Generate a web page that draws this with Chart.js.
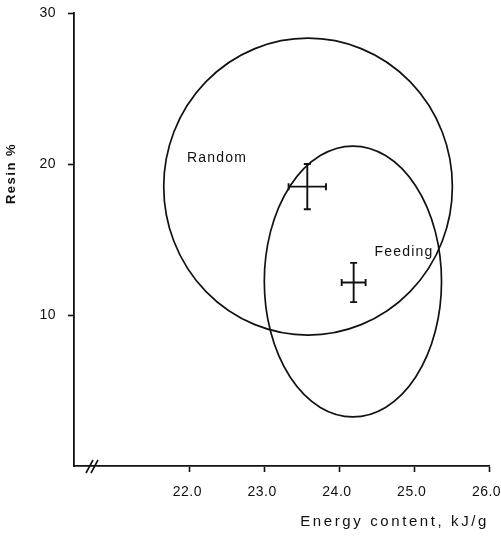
<!DOCTYPE html>
<html><head><meta charset="utf-8">
<script src="https://cdn.jsdelivr.net/npm/chart.js@4"></script>
<style>html,body{margin:0;padding:0;background:#fff}#c{display:block}</style>
</head><body>
<canvas id="c" width="501" height="548"></canvas>
<script>
// ---- data ----
const groups = ['Random', 'Feeding'];
const meanEnergy = [23.57, 24.19];
const meanResin = [18.5, 12.15];
const errEnergy = [0.25, 0.16];
const errResin = [1.5, 1.3];
const ellipseCenterEnergy = [23.58, 24.18];
const ellipseCenterResin = [18.5, 12.22];
const ellipseRadiusEnergy = [1.93, 1.185];
const ellipseRadiusResin = [9.83, 8.97];
const xTicks = [22, 23, 24, 25, 26];
const yTicks = [10, 20, 30];
// annotation anchor points (data units)
const labelEnergy = [21.96, 24.47];
const labelResin = [20.36, 14.17];

const ink = '#111';
const fontFam = '"Liberation Sans", Arial, Helvetica, sans-serif';

const drawPlugin = {
  id: 'ellipsesErrors',
  beforeDraw(chart) {
    chart.ctx.letterSpacing = '0.5px';
    const xs = chart.scales.x, ys = chart.scales.y;
    if (!xs._wrappedTitle) {
      const o = xs.drawTitle;
      xs.drawTitle = function () { this.ctx.save(); this.ctx.letterSpacing = '2.6px'; o.call(this); this.ctx.restore(); };
      xs._wrappedTitle = true;
    }
    if (!ys._wrappedTitle) {
      const o = ys.drawTitle;
      ys.drawTitle = function () { this.ctx.save(); this.ctx.letterSpacing = '1.5px'; this.ctx.translate(0, -66); o.call(this); this.ctx.restore(); };
      ys._wrappedTitle = true;
    }
  },
  afterDatasetsDraw(chart) {
    const { ctx, scales: { x, y } } = chart;
    ctx.save();
    ctx.strokeStyle = ink;
    groups.forEach((g, i) => {
      const cx = x.getPixelForValue(ellipseCenterEnergy[i]);
      const cy = y.getPixelForValue(ellipseCenterResin[i]);
      const rx = Math.abs(x.getPixelForValue(ellipseCenterEnergy[i] + ellipseRadiusEnergy[i]) - cx);
      const ry = Math.abs(y.getPixelForValue(ellipseCenterResin[i] + ellipseRadiusResin[i]) - cy);
      ctx.lineWidth = 1.7;
      ctx.beginPath();
      ctx.ellipse(cx, cy, rx, ry, 0, 0, Math.PI * 2);
      ctx.stroke();

      const mx = x.getPixelForValue(meanEnergy[i]);
      const my = y.getPixelForValue(meanResin[i]);
      const xl = x.getPixelForValue(meanEnergy[i] - errEnergy[i]);
      const xr = x.getPixelForValue(meanEnergy[i] + errEnergy[i]);
      const yt = y.getPixelForValue(meanResin[i] + errResin[i]);
      const yb = y.getPixelForValue(meanResin[i] - errResin[i]);
      const c = 3.5;
      ctx.lineWidth = 1.9;
      ctx.beginPath();
      ctx.moveTo(xl, my); ctx.lineTo(xr, my);
      ctx.moveTo(mx, yt); ctx.lineTo(mx, yb);
      ctx.moveTo(xl, my - c); ctx.lineTo(xl, my + c);
      ctx.moveTo(xr, my - c); ctx.lineTo(xr, my + c);
      ctx.moveTo(mx - c, yt); ctx.lineTo(mx + c, yt);
      ctx.moveTo(mx - c, yb); ctx.lineTo(mx + c, yb);
      ctx.stroke();

      ctx.fillStyle = ink;
      ctx.font = '14px ' + fontFam;
      ctx.textAlign = 'left';
      ctx.textBaseline = 'middle';
      ctx.letterSpacing = '1.2px';
      ctx.fillText(g, x.getPixelForValue(labelEnergy[i]), y.getPixelForValue(labelResin[i]));
    });
    // axis break marks on the x axis
    const bx = x.left + 17, by = y.bottom;
    ctx.lineWidth = 1.6;
    ctx.beginPath();
    ctx.moveTo(bx - 5, by + 7); ctx.lineTo(bx + 2, by - 6);
    ctx.moveTo(bx, by + 7); ctx.lineTo(bx + 7, by - 6);
    ctx.stroke();
    ctx.restore();
  }
};

new Chart(document.getElementById('c'), {
  type: 'scatter',
  data: {
    datasets: groups.map((g, i) => ({
      label: g,
      data: [{ x: meanEnergy[i], y: meanResin[i] }],
      pointRadius: 0,
      borderColor: ink,
      backgroundColor: ink
    }))
  },
  options: {
    responsive: false,
    animation: false,
    devicePixelRatio: 1,
    layout: { padding: { top: 13, right: 12, left: 0, bottom: 0 } },
    plugins: { legend: { display: false }, tooltip: { enabled: false } },
    scales: {
      x: {
        type: 'linear',
        min: 20.45, max: 26,
        afterBuildTicks: s => { s.ticks = xTicks.map(v => ({ value: v })); },
        afterFit: s => { s.height = 82; s.paddingLeft = 0; s.paddingRight = 0; },
        grid: { drawOnChartArea: false, drawTicks: true, tickLength: 6, tickColor: ink, tickWidth: 1.6 },
        border: { display: true, color: ink, width: 1.8 },
        ticks: {
          color: ink, padding: 12, maxRotation: 0, autoSkip: false, labelOffset: -2.5,
          font: { family: fontFam, size: 14 },
          callback: v => Number(v).toFixed(1)
        },
        title: {
          display: true, text: 'Energy content, kJ/g', align: 'end',
          color: ink, font: { family: fontFam, size: 15 },
          padding: { top: 0, bottom: 17 }
        }
      },
      y: {
        type: 'linear',
        min: 0, max: 30,
        afterBuildTicks: s => { s.ticks = yTicks.map(v => ({ value: v })); },
        afterFit: s => { s.width = 74; s.paddingTop = 0; s.paddingBottom = 0; },
        grid: { drawOnChartArea: false, drawTicks: true, tickLength: 6, tickColor: ink, tickWidth: 1.6 },
        border: { display: true, color: ink, width: 1.8 },
        ticks: {
          color: ink, padding: 12, autoSkip: false,
          font: { family: fontFam, size: 14 },
          callback: v => String(v)
        },
        title: {
          display: true, text: 'Resin %',
          color: ink, font: { family: fontFam, size: 13, weight: 'bold' },
          padding: { top: 4, bottom: 0 }
        }
      }
    }
  },
  plugins: [drawPlugin]
});
</script>
</body></html>
